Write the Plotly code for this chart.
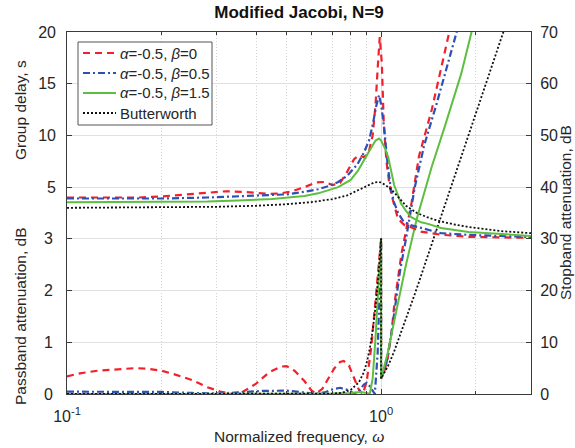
import plotly.graph_objects as go

# ---------------- data ----------------
# legend labels
names = ["<i>α</i>=-0.5, <i>β</i>=0", "<i>α</i>=-0.5, <i>β</i>=0.5",
         "<i>α</i>=-0.5, <i>β</i>=1.5", "Butterworth"]

# group delay (left upper scale, s)
w_gd_r = [0.10,0.13,0.17,0.20,0.24,0.28,0.32,0.36,0.40,0.44,0.48,0.52,0.57,0.62,0.66,0.70,0.74,0.78,0.82,0.85,
          0.88,0.91,0.94,0.96,0.975,0.99,1.005,1.02,1.04,1.06,1.08,1.10,1.13,1.16,1.19,1.25,1.34,1.55,1.90,2.40,3.00]
gd_r = [4.0,4.0,4.0,4.1,4.3,4.45,4.6,4.55,4.45,4.35,4.4,4.6,5.0,5.45,5.5,5.2,5.4,6.5,7.7,8.1,
        7.9,8.2,10.0,13.0,16.5,19.5,17.0,11.0,7.5,5.5,4.2,3.2,2.0,1.6,1.3,1.1,0.7,0.4,0.2,0.14,0.1]

w_gd_b = [0.10,0.15,0.20,0.28,0.34,0.40,0.45,0.50,0.57,0.63,0.68,0.73,0.78,0.84,0.88,0.915,0.94,0.964,0.985,1.00,
          1.022,1.05,1.076,1.10,1.133,1.18,1.25,1.34,1.55,1.90,2.40,3.00]
gd_b = [3.9,3.9,3.9,4.0,4.1,4.15,4.2,4.3,4.55,4.8,5.1,5.5,6.1,7.2,8.3,9.5,11.0,12.8,13.9,13.0,
        10.8,7.0,4.7,3.5,2.5,1.65,1.3,1.05,0.55,0.38,0.25,0.17]

w_gd_g = [0.10,0.20,0.28,0.35,0.45,0.57,0.63,0.73,0.80,0.844,0.88,0.93,0.96,0.985,1.00,1.03,1.053,1.076,1.10,1.158,
          1.20,1.247,1.34,1.41,1.55,1.90,2.40,3.00]
gd_g = [3.55,3.55,3.6,3.7,3.85,4.15,4.4,5.0,5.7,6.6,7.6,8.8,9.5,9.7,9.5,8.7,7.9,6.6,5.2,3.4,
        2.7,2.1,1.6,1.45,1.05,0.67,0.45,0.28]

w_gd_k = [0.10,0.20,0.30,0.40,0.50,0.60,0.70,0.78,0.85,0.90,0.95,0.98,1.00,1.05,1.10,1.20,1.30,1.40,1.50,1.70,
          1.90,2.40,3.00]
gd_k = [3.0,3.05,3.1,3.2,3.35,3.55,3.85,4.2,4.75,5.15,5.45,5.5,5.45,5.05,4.5,3.2,2.5,2.1,1.8,1.4,
        1.15,0.75,0.55]

# passband attenuation (left lower scale, dB)
w_pb_r = [0.10,0.11,0.125,0.15,0.165,0.18,0.20,0.22,0.25,0.28,0.31,0.335,0.36,0.40,0.44,0.48,0.50,0.53,0.57,0.60,
          0.62,0.65,0.68,0.71,0.74,0.76,0.79,0.82,0.85,0.875,0.90,0.93,0.96,0.98,1.00]
pb_r = [0.34,0.40,0.45,0.49,0.50,0.49,0.45,0.38,0.27,0.13,0.04,0.005,0.03,0.20,0.42,0.53,0.54,0.45,0.25,0.07,
        0.01,0.10,0.30,0.50,0.62,0.64,0.55,0.30,0.08,0.0,0.25,0.9,1.8,2.4,3.0]

w_pb_b = [0.10,0.15,0.20,0.25,0.30,0.35,0.42,0.50,0.56,0.62,0.66,0.70,0.74,0.78,0.82,0.85,0.88,0.90,0.92,0.955,
          0.975,0.99,1.00]
pb_b = [0.045,0.045,0.04,0.02,0.01,0.03,0.06,0.065,0.04,0.005,0.03,0.09,0.12,0.08,0.01,0.05,0.18,0.22,0.15,0.0,
        0.8,2.0,3.0]

w_pb_g = [0.10,0.50,0.70,0.80,0.86,0.90,0.92,0.94,0.96,0.98,0.99,1.00]
pb_g = [0.0,0.0,0.01,0.02,0.04,0.02,0.0,0.3,1.1,2.1,2.5,3.0]

w_pb_k = [0.10,0.60,0.70,0.75,0.80,0.85,0.88,0.90,0.92,0.94,0.96,0.98,0.99,1.00]
pb_k = [0.0,0.0,0.007,0.024,0.078,0.227,0.415,0.607,0.874,1.234,1.70,2.29,2.64,3.01]

# stopband attenuation (right scale, dB)
w_sb_r = [1.00,1.02,1.05,1.08,1.10,1.133,1.16,1.25,1.32,1.45,1.64,1.75]
sb_r = [3.0,4.0,7.0,12.0,17.0,23.0,27.0,37.0,46.0,55.0,70.0,77.0]

w_sb_b = [1.00,1.04,1.08,1.12,1.15,1.20,1.28,1.37,1.50,1.74,1.85]
sb_b = [3.0,6.0,12.0,19.0,24.0,30.0,40.0,48.0,56.0,70.0,76.0]

w_sb_g = [1.00,1.05,1.10,1.15,1.20,1.30,1.45,1.60,1.80,1.94,2.10]
sb_g = [3.0,8.0,14.0,20.0,25.0,34.0,44.0,52.0,62.0,70.0,77.0]

w_sb_k = [1.00,1.05,1.10,1.20,1.30,1.40,1.50,1.70,1.90,2.10,2.30,2.50,2.70]
sb_k = [3.0,5.3,8.2,14.4,20.5,26.3,31.7,41.5,50.2,58.0,65.1,71.6,77.6]

# axis ticks
x_tickvals = [0.1, 1]
x_ticktext = ["10<sup>-1</sup>", "10<sup>0</sup>"]
x_minor = [0.2, 0.3, 0.4, 0.5, 0.6, 0.7, 0.8, 0.9, 2, 3]
pb_ticks = [0, 1, 2, 3]
gd_ticks = [5, 10, 15, 20]
sb_ticks = [0, 10, 20, 30, 40, 50, 60, 70]

# passband values are drawn on the stopband dB scale magnified 10x (as in the figure)
PB_SCALE = 10

# ---------------- styling ----------------
FONT = "Arial, 'Liberation Sans', Helvetica, sans-serif"
TXT = "#262626"
AX = "#3a3a3a"
GRID = "#e0e0e0"
MGRID = "#d0d0d0"
styles = [
    dict(color="#f2202b", width=2.2, dash="7px,5px"),
    dict(color="#2e4fb5", width=2.2, dash="7px,3px,2px,3px"),
    dict(color="#5cbf3f", width=2.0, dash="solid"),
    dict(color="#111111", width=1.8, dash="2px,2px"),
]

gd_sets = [(w_gd_r, gd_r), (w_gd_b, gd_b), (w_gd_g, gd_g), (w_gd_k, gd_k)]
pb_sets = [(w_pb_r, pb_r), (w_pb_b, pb_b), (w_pb_g, pb_g), (w_pb_k, pb_k)]
sb_sets = [(w_sb_r, sb_r), (w_sb_b, sb_b), (w_sb_g, sb_g), (w_sb_k, sb_k)]

fig = go.Figure()
# attenuation curves on the base (stopband dB) axis
for i in range(4):
    wp, p = pb_sets[i]
    ws, s = sb_sets[i]
    fig.add_trace(go.Scatter(x=list(wp) + list(ws), y=[v * PB_SCALE for v in p] + list(s),
                             mode="lines", line=styles[i], name=names[i],
                             showlegend=False, yaxis="y", hoverinfo="skip"))
# passband axis carrier (keeps the left passband scale active)
fig.add_trace(go.Scatter(x=[], y=[], yaxis="y2", showlegend=False, hoverinfo="skip"))
# group delay curves
for i in range(4):
    w, g = gd_sets[i]
    fig.add_trace(go.Scatter(x=w, y=g, mode="lines", line=styles[i], name=names[i],
                             showlegend=False, yaxis="y3", hoverinfo="skip"))

common_tick = dict(ticks="inside", ticklen=5, tickwidth=1, tickcolor=AX,
                   tickfont=dict(family=FONT, size=16, color=TXT), zeroline=False)

fig.update_layout(
    width=575, height=448, autosize=False,
    margin=dict(l=67, r=44, t=32, b=54, pad=0),
    paper_bgcolor="white", plot_bgcolor="white",
    font=dict(family=FONT, color=TXT),
    title=dict(text="<b>Modified Jacobi, N=9</b>", xref="paper", x=0.5, xanchor="center",
               y=1 - 12 / 448, yanchor="middle", font=dict(family=FONT, size=17, color="#111111")),
    xaxis=dict(type="log", range=[-1, 0.47712], tickvals=x_tickvals, ticktext=x_ticktext,
               showline=True, linecolor=AX, linewidth=1, mirror="ticks",
               showgrid=True, gridcolor=GRID, gridwidth=1, ticklabelstandoff=8,
               minor=dict(tickvals=x_minor, ticks="inside", ticklen=3, tickcolor=AX,
                          showgrid=True, gridcolor=MGRID, griddash="1px,2px", gridwidth=1),
               **common_tick),
    yaxis=dict(range=[0, 70], tickvals=sb_ticks, side="right", anchor="x",
               showline=True, linecolor=AX, linewidth=1, showgrid=False, ticklabelstandoff=5,
               **common_tick),
    yaxis2=dict(range=[0, 7], tickvals=pb_ticks, overlaying="y", side="left", anchor="x",
                showline=True, linecolor=AX, linewidth=1,
                showgrid=True, gridcolor=GRID, ticklabelstandoff=10, **common_tick),
    yaxis3=dict(range=[-15, 20], tickvals=gd_ticks, overlaying="y", side="left", anchor="x",
                showline=False, showgrid=True, gridcolor=GRID, ticklabelstandoff=10, **common_tick),
    showlegend=False,
)

# ---- legend box (drawn as layout decorations) ----
def px_x(px):
    return (px - 67) / 464.0

def px_y(py):
    return 1 - (py - 32) / 362.0

fig.add_shape(type="rect", xref="paper", yref="paper", x0=px_x(78), x1=px_x(212),
              y0=px_y(125), y1=px_y(42), line=dict(color="#555555", width=1),
              fillcolor="white", layer="above")
rows_y = [53, 73, 93, 113]
for i in range(4):
    st = styles[i]
    fig.add_shape(type="line", xref="paper", yref="paper", x0=px_x(83), x1=px_x(116),
                  y0=px_y(rows_y[i]), y1=px_y(rows_y[i]),
                  line=dict(color=st["color"], width=st["width"], dash=st["dash"]), layer="above")
    fig.add_annotation(text=names[i], xref="paper", yref="paper", x=px_x(118), y=px_y(rows_y[i]),
                       xanchor="left", yanchor="middle", showarrow=False,
                       font=dict(family=FONT, size=15, color=TXT))

lbl = dict(family=FONT, size=15.5, color=TXT)
fig.add_annotation(text="Group delay, s", xref="paper", yref="paper", x=px_x(20),
                   y=px_y(110), textangle=-90, showarrow=False, font=lbl,
                   xanchor="center", yanchor="middle")
fig.add_annotation(text="Passband attenuation, dB", xref="paper", yref="paper", x=px_x(20),
                   y=px_y(316), textangle=-90, showarrow=False, font=lbl,
                   xanchor="center", yanchor="middle")
fig.add_annotation(text="Stopband attenuation, dB", xref="paper", yref="paper", x=px_x(565),
                   y=0.5, textangle=-90, showarrow=False, font=lbl,
                   xanchor="center", yanchor="middle")
fig.add_annotation(text="Normalized frequency, <i>ω</i>", xref="paper", yref="paper", x=0.5,
                   y=px_y(436), showarrow=False, font=lbl,
                   xanchor="center", yanchor="middle")

fig.write_html("out.html")
